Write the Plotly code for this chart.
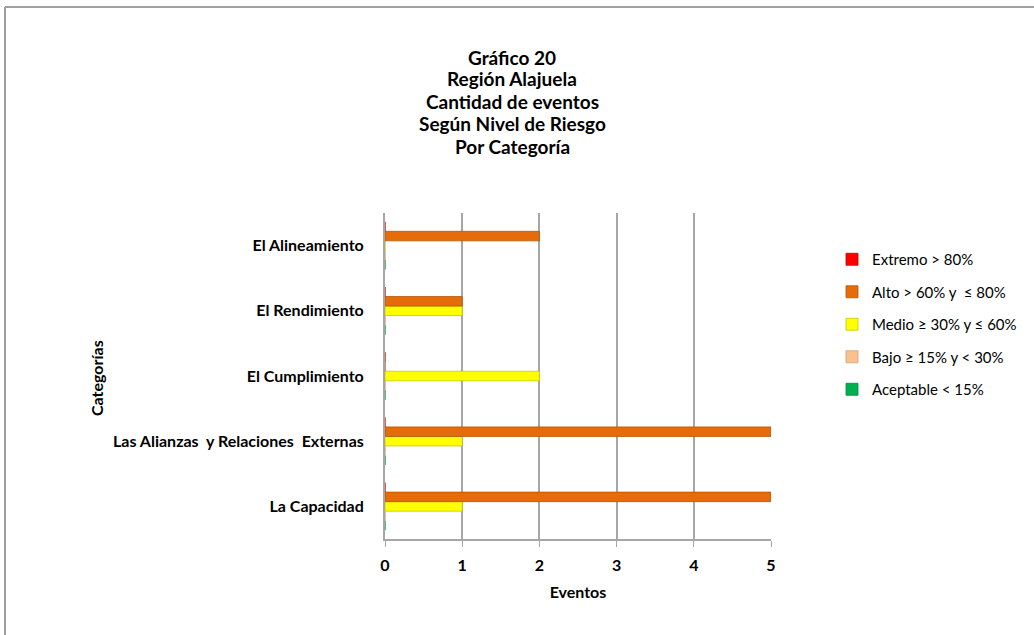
import plotly.graph_objects as go

categories = ["La Capacidad", "Las Alianzas  y Relaciones  Externas", "El Cumplimiento",
              "El Rendimiento", "El Alineamiento"]

series_names = ["Aceptable < 15%", "Bajo ≥ 15% y < 30%", "Medio ≥ 30% y ≤ 60%",
                "Alto > 60% y  ≤ 80%", "Extremo > 80%"]
aceptable = [0, 0, 0, 0, 0]
bajo = [0, 0, 0, 0, 0]
medio = [1, 1, 2, 1, 0]
alto = [5, 5, 0, 1, 2]
extremo = [0, 0, 0, 0, 0]
series_values = [aceptable, bajo, medio, alto, extremo]
legend_ranks = [5, 4, 3, 2, 1]
series_colors = ["#00B050", "#FAC090", "#FFFF00", "#E46C0A", "#FF0000"]
series_edges = ["#008A3E", "#D9A070", "#C8C800", "#B85508", "#C00000"]

x_ticks = [0, 1, 2, 3, 4, 5]

title_lines = ["Gráfico 20", "Región Alajuela", "Cantidad de eventos",
               "Según Nivel de Riesgo", "Por Categoría"]
title_line_y = [57, 79, 101, 123, 146]

FONT = "Lato, 'Open Sans', sans-serif"

W, H = 1034, 635
L, R = 385, 771
T, B = 213, 539
pw, ph = R - L, B - T

def px_x(x):
    return (x - L) / pw

def px_y(y):
    return 1 - (y - T) / ph

fig = go.Figure()
for name, vals, col, edge, rk in zip(series_names, series_values, series_colors,
                                     series_edges, legend_ranks):
    fig.add_trace(go.Bar(
        y=categories, x=vals, name=name, orientation="h",
        marker=dict(color=col, line=dict(color=edge, width=0.8)),
        legendgroup=name, legendrank=rk,
    ))

annotations = []
for line, yy in zip(title_lines, title_line_y):
    annotations.append(dict(
        text="<b>%s</b>" % line, xref="paper", yref="paper",
        x=px_x(512), y=px_y(yy), xanchor="center", yanchor="middle",
        showarrow=False, font=dict(family=FONT, size=19, color="#000000")))
annotations.append(dict(
    text="<b>Categorías</b>", xref="paper", yref="paper",
    x=px_x(96), y=px_y(378), xanchor="center", yanchor="middle",
    textangle=-90, showarrow=False,
    font=dict(family=FONT, size=16, color="#000000")))

fig.update_layout(
    width=W, height=H,
    margin=dict(l=L, r=W - R, t=T, b=H - B, autoexpand=False),
    paper_bgcolor="white", plot_bgcolor="white",
    barmode="group", bargap=0.27, bargroupgap=0,
    font=dict(family=FONT, color="#000000", size=16),
    showlegend=True,
    legend=dict(
        x=px_x(832), y=px_y(243), xanchor="left", yanchor="top",
        traceorder="grouped", tracegroupgap=10,
        font=dict(family=FONT, size=15, color="#000000"),
        bgcolor="rgba(0,0,0,0)",
    ),
    xaxis=dict(
        range=[0, 5], tickvals=x_ticks, ticktext=[str(v) for v in x_ticks],
        showgrid=True, gridcolor="#A6A6A6", gridwidth=2,
        zeroline=False, showline=True, linecolor="#A6A6A6", linewidth=2,
        ticks="outside", ticklen=6, tickcolor="#A6A6A6", tickwidth=1,
        tickfont=dict(family=FONT, size=16, color="#000000", weight="bold"),
        ticklabelstandoff=5,
        title=dict(text="Eventos", font=dict(family=FONT, size=16, color="#000000", weight="bold"),
                   standoff=14),
    ),
    yaxis=dict(
        range=[-0.5, 4.5],
        showgrid=False, zeroline=False, showline=True, linecolor="#A6A6A6", linewidth=2,
        ticks="", ticklabelstandoff=16,
        tickfont=dict(family=FONT, size=16, color="#000000", weight="bold"),
    ),
    annotations=annotations,
    shapes=[
        dict(type="line", xref="paper", yref="paper", x0=px_x(5), x1=px_x(1100),
             y0=px_y(7), y1=px_y(7), line=dict(color="#A0A0A0", width=2)),
        dict(type="line", xref="paper", yref="paper", x0=px_x(5), x1=px_x(5),
             y0=px_y(7), y1=px_y(700), line=dict(color="#A0A0A0", width=2)),
    ],
)

fig.write_html("out.html", config={"displayModeBar": False},
               post_script="document.body.style.margin='0';")
